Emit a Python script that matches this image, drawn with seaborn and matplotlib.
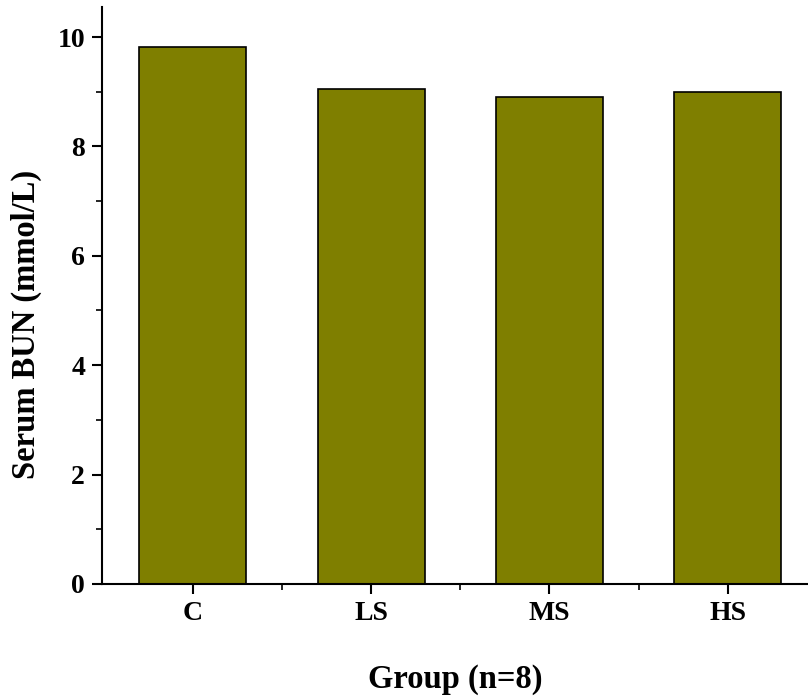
import matplotlib
matplotlib.use("Agg")
import matplotlib.pyplot as plt
import pandas as pd
import seaborn as sns
from matplotlib.ticker import MultipleLocator, FixedLocator

# Data
groups = ["C", "LS", "MS", "HS"]
bun = [9.82, 9.05, 8.91, 8.99]

df = pd.DataFrame({"group": groups, "bun": bun})

sns.set_style("ticks", {"axes.edgecolor": "black", "text.color": "black",
                        "xtick.color": "black", "ytick.color": "black",
                        "axes.labelcolor": "black"})
plt.rcParams["font.family"] = ["Liberation Serif", "DejaVu Serif"]
plt.rcParams["font.weight"] = "bold"

fig = plt.figure(figsize=(8.08, 6.96), dpi=100)
ax = fig.add_axes([0.126, 0.161, 0.874, 0.829])

sns.barplot(data=df, x="group", y="bun", color="#7f7f00", saturation=1,
            width=0.6, edgecolor="black", linewidth=1.2, ax=ax)

ax.set_xlim(-0.51, 3.45)
ax.set_ylim(0, 10.55)
ax.yaxis.set_major_locator(MultipleLocator(2))
ax.yaxis.set_minor_locator(MultipleLocator(1))
ax.xaxis.set_minor_locator(FixedLocator([0.5, 1.5, 2.5]))

sns.despine(ax=ax)
for side in ["left", "bottom"]:
    ax.spines[side].set_linewidth(1.5)

ax.tick_params(which="major", length=7, width=1.5, labelsize=20, pad=5)
ax.tick_params(which="minor", length=4, width=1.2)
for lbl in ax.get_xticklabels() + ax.get_yticklabels():
    lbl.set_fontweight("bold")

ax.set_xlabel("Group (n=8)", fontsize=23.5, fontweight="bold", labelpad=28)
ax.set_ylabel("Serum BUN (mmol/L)", fontsize=23.5, fontweight="bold")
ax.yaxis.set_label_coords(-0.084, 0.45)

fig.savefig("out.png", dpi=100)
